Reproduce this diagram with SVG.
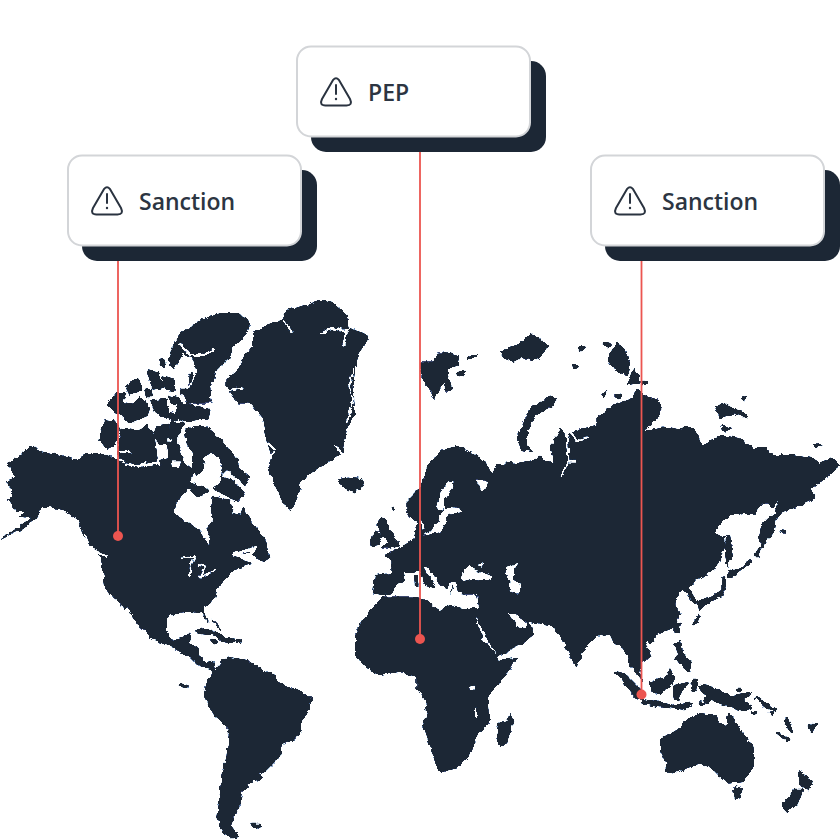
<svg xmlns="http://www.w3.org/2000/svg" xmlns:xlink="http://www.w3.org/1999/xlink" width="840" height="840" viewBox="0 0 840 840">
<style>
.d{fill:#1c2735;stroke:#1c2735;stroke-width:2;stroke-linejoin:round}
.i{fill:#1c2735;stroke:#1c2735;stroke-width:9;stroke-linejoin:round}
.w{fill:#fff;stroke:#fff;stroke-width:2;stroke-linejoin:round}
.wl{fill:none;stroke:#fff;stroke-width:5;stroke-linecap:round;stroke-linejoin:round}
.dl{fill:none;stroke:#1c2735;stroke-width:4;stroke-linecap:round;stroke-linejoin:round}
.sh{fill:#1c2735}
.card{fill:#fff;stroke:#d3d5d8;stroke-width:2}
.ic{fill:none;stroke:#2a3340;stroke-width:2;stroke-linejoin:round;stroke-linecap:round}
.lb{font-family:"Open Sans","Noto Sans",sans-serif;font-weight:600;font-size:23px;fill:#2c3542}
.ln{stroke:#ec5550;stroke-width:1.8;fill:none}
.dot{fill:#ec5550}
</style>
<defs>
<g id="warn">
<path class="ic" d="M104.2,188.8Q107,185.6 109.8,188.8L121,208Q124,214.5 117.5,214.5L96.5,214.5Q90,214.5 93,208Z"/>
<path class="ic" d="M107,194V203"/>
<circle cx="107" cy="208" r="1.2" fill="#2a3340"/>
</g>
<filter id="coast" filterUnits="userSpaceOnUse" x="0" y="0" width="840" height="840" color-interpolation-filters="sRGB">
<feTurbulence type="fractalNoise" baseFrequency="0.16" numOctaves="3" seed="4" result="n"/>
<feDisplacementMap in="SourceGraphic" in2="n" scale="5" xChannelSelector="R" yChannelSelector="G" result="r"/>
<feGaussianBlur in="r" stdDeviation="0.7" result="b"/>
<feComponentTransfer>
<feFuncR type="table" tableValues="0.11 0.11 0.11 0.11 0.3 0.8 1 1 1 1"/>
<feFuncG type="table" tableValues="0.153 0.153 0.153 0.153 0.3 0.8 1 1 1 1"/>
<feFuncB type="table" tableValues="0.208 0.208 0.208 0.208 0.35 0.8 1 1 1 1"/>
</feComponentTransfer>
</filter>
</defs>
<rect width="840" height="840" fill="#fff"/>

<g id="map" filter="url(#coast)">
<rect x="-10" y="-10" width="860" height="860" fill="#fff"/>
<!-- frame A: North America and Arctic -->
<g transform="translate(0,290) scale(.33333)">
<polygon class="d" points="90,468 130,485 180,495 230,510 260,490 300,490 350,505 380,525 420,535 470,525 500,535 540,530 575,560 575,590 560,600 530,640 520,670 560,695 600,720 610,745 625,765 630,740 620,715 640,690 630,650 640,620 690,630 700,670 720,675 730,650 760,700 790,740 810,800 790,815 750,790 700,795 730,812 760,820 700,840 670,870 650,900 645,925 615,950 615,975 625,1000 605,970 570,965 525,968 500,985 500,1020 515,1050 550,1040 572,1028 565,1060 595,1070 598,1100 620,1120 640,1115 600,1130 570,1100 515,1072 450,1045 435,1015 410,1015 370,950 340,925 315,890 310,840 300,800 250,740 235,690 190,660 150,650 125,650 110,685 60,720 0,750 50,715 100,680 90,665 50,665 25,630 40,600 15,575 50,560 20,520 50,505"/>
<polygon class="w" points="382,953 418,1015 408,1015 375,960"/>
<polyline class="wl" points="545,805 585,800 572,825 570,860"/>
<polyline class="wl" points="595,825 615,830 600,860 645,842"/>
<polyline class="wl" points="700,795 750,780 770,770 745,800" style="stroke-width:9"/>
<polyline class="wl" points="255,735 270,775 320,800" style="stroke-width:6"/>
<polygon class="d" points="60,680 100,640 125,650 110,685"/>
<!-- Greenland -->
<polygon class="d" points="760,125 800,105 850,85 860,60 920,45 960,30 1000,40 1040,75 1045,110 1105,140 1085,175 1065,230 1060,290 1065,370 1040,420 1030,490 960,530 905,570 885,640 875,660 850,640 825,590 805,530 815,500 800,450 790,385 750,340 715,340 680,290 680,265 720,235 735,190 760,170"/>
<polyline class="wl" points="960,130 1000,115 1040,125 1030,165" style="stroke-width:6"/>
<polyline class="wl" points="1020,125 1050,115"/>
<polyline class="wl" points="850,90 875,125"/>
<polyline class="wl" points="685,300 725,293"/>
<polyline class="wl" points="805,460 825,480 810,505"/>
<polyline class="wl" points="1005,470 1030,490"/>
<polyline class="wl" points="1060,240 1048,290 1060,330 1040,400"/>
<!-- Iceland -->
<polygon class="d" points="1015,570 1040,560 1085,565 1093,585 1060,610 1030,590"/>
<!-- Ellesmere -->
<polygon class="d" points="605,90 660,70 720,70 750,100 740,130 700,170 690,200 650,240 630,290 635,340 560,340 550,310 570,290 565,260 590,240 580,210 550,190 520,240 505,210 520,165 540,130 570,110"/>
<polyline class="wl" points="540,160 570,195 610,195 640,180" style="stroke-width:6"/>
<polyline class="wl" points="570,195 585,245 570,290"/>
<!-- Baffin -->
<polygon class="d" points="555,420 585,408 620,410 650,435 680,470 715,510 720,535 750,560 735,585 700,555 680,540 660,560 670,520 640,490 615,500 610,540 590,560 575,540 580,490 560,460"/>
<polygon class="d" points="660,560 700,570 735,610 715,635 680,620 640,595 660,580"/>
<polygon class="d" points="575,580 610,590 625,605 590,620 570,600"/>
<polygon class="d" points="545,510 580,540 575,570 540,535"/>
<!-- arctic islands -->
<polygon class="i" points="365,420 410,425 440,410 460,440 470,510 430,520 385,520 355,490"/>
<polygon class="i" points="315,392 345,395 355,420 345,460 320,472 302,450"/>
<polygon class="i" points="325,345 355,310 375,310 365,340 400,345 420,325 445,355 440,375 395,395 350,365"/>
<polygon class="i" points="380,290 415,265 420,300 390,310"/>
<polygon class="i" points="445,245 470,250 490,290 460,295"/>
<polygon class="i" points="455,335 500,330 500,380 470,365"/>
<polygon class="i" points="505,370 530,375 525,390 510,385"/>
<polygon class="i" points="530,335 560,345 625,360 620,385 550,390 535,380"/>
<polygon class="i" points="505,320 530,325 550,345 525,340"/>
<polygon class="i" points="490,260 520,270 520,300 500,295"/>
<polygon class="i" points="470,410 505,405 500,460 480,465 462,430"/>
<polygon class="i" points="515,400 550,400 525,450 510,440"/>
<polygon class="i" points="505,460 530,455 545,510 510,510"/>
<polygon class="i" points="485,510 510,505 515,535 490,535"/>
<polygon class="i" points="440,300 450,298 455,318 445,318"/>
<polygon class="i" points="478,210 490,208 495,225 485,228"/>
<polygon class="i" points="545,300 555,300 555,312 545,312"/>
<polyline class="wl" points="380,520 420,530 440,515"/>
<polyline class="wl" points="360,485 395,487"/>
</g>

<!-- frame B: Eurasia -->
<g transform="translate(350,320) scale(.33333)">
<polygon class="d" points="70,820 75,765 125,760 125,725 105,705 145,685 190,660 205,605 190,600 170,575 170,545 205,510 215,500 235,430 280,390 320,378 360,395 410,430 425,465 440,435 460,435 470,425 500,430 550,420 570,410 612,432 600,385 630,325 650,340 645,380 660,340 700,325 740,315 740,290 790,255 845,235 860,210 880,225 925,240 935,265 920,300 885,330 940,320 1000,330 1010,318 1040,330 1055,380 1110,345 1170,355 1210,385 1250,385 1265,405 1320,405 1390,415 1410,430 1445,410 1470,435 1420,480 1385,505 1395,535 1330,565 1295,575 1280,595 1275,630 1255,655 1235,685 1228,650 1235,610 1275,580 1287,535 1270,565 1255,550 1240,550 1215,580 1140,585 1090,635 1125,650 1125,680 1100,740 1060,770 1015,800 1040,845 1020,845 1015,820 990,810 965,805 985,790 1000,800 985,830 975,850 990,880 975,920 930,940 905,950 885,965 905,1010 875,1025 870,1060 878,1085 865,1070 840,1035 835,1010 815,985 790,965 778,940 740,950 705,985 680,1040 670,1035 650,985 630,950 600,915 535,905 555,940 520,970 450,1005 440,1008 400,940 378,890 385,860 340,820 250,810 100,825"/>
<!-- seas, given in the European frame -->
<g transform="translate(45,480)">
<polygon class="w" points="55,350 90,335 95,315 120,300 115,280 145,280 165,275 172,310 205,330 215,320 190,285 178,262 190,265 225,315 250,330 250,345 335,345 340,380 300,385 240,370 205,380 170,360 165,338 120,340 85,348"/>
<polygon class="d" points="148,285 158,285 160,320 150,320"/>
<polygon class="w" points="175,165 205,150 225,110 240,85 285,88 290,95 250,100 240,130 225,155 185,165"/>
<polygon class="w" points="215,80 225,45 250,5 265,8 255,35 235,60 235,85 222,90"/>
<polygon class="w" points="170,120 178,145 170,145"/>
<polygon class="w" points="335,0 350,30 370,15 360,0"/>
<polygon class="w" points="288,295 300,270 315,255 325,265 345,275 380,290 375,300 320,295 295,302"/>
<polygon class="w" points="340,255 355,250 350,262"/>
<polygon class="w" points="425,265 455,250 445,270 445,295 468,325 460,340 435,330 438,305 422,280"/>
<polygon class="w" points="250,310 270,305 275,330 285,345 255,345"/>
<polyline class="dl" points="258,315 265,325 258,340"/>
<!-- Britain and Ireland -->
<polygon class="d" points="35,130 50,110 65,120 75,150 95,180 105,195 75,205 50,205 70,185 55,170 40,150"/>
<polygon class="d" points="15,180 30,155 55,165 40,195 18,198"/>
<polygon class="d" points="80,85 86,80 86,92"/>
</g>
<polygon class="w" points="375,115 400,160 438,222 425,218 400,180" transform="translate(0,780)"/>
<polygon class="w" points="475,880 490,880 530,912 522,922 500,915"/>
<polyline class="wl" points="650,340 655,420 635,470" style="stroke-width:6"/>
<polyline class="wl" points="665,340 680,362 712,352"/>
<polyline class="wl" points="678,425 658,425"/>
<polyline class="wl" points="885,328 925,305"/>
<!-- Arctic islands -->
<polygon class="d" points="500,355 520,310 545,260 600,230 620,235 610,255 560,285 530,330 530,375 548,395 515,390"/>
<polygon class="d" points="215,125 250,125 265,95 280,95 330,110 325,135 290,150 305,205 290,215 280,185 255,240 235,200 212,170"/>
<polygon class="d" points="450,95 490,80 520,65 545,40 595,75 580,100 550,125 520,110 490,125 465,115"/>
<polygon class="d" points="770,120 800,65 820,80 840,130 830,165 800,155"/>
<polygon class="d" points="830,195 850,145 870,170 870,190"/>
<polygon class="d" points="1095,260 1120,250 1150,265 1190,280 1190,295 1150,280 1110,295"/>
<polygon class="d" points="1115,315 1145,325 1120,335"/>
<polygon class="d" points="1388,378 1405,370 1415,378 1395,385"/>
<polygon class="i" points="322,160 345,156 340,165"/>
<polygon class="i" points="355,115 375,108 365,117"/>
<polygon class="i" points="670,135 682,140 672,143"/>
<polygon class="i" points="690,82 700,82 695,90"/>
<polygon class="i" points="765,70 778,72 772,78"/>
<polygon class="i" points="755,225 765,218 760,230"/>
<polygon class="i" points="800,228 812,224 806,234"/>
<polygon class="i" points="875,185 890,188 880,192"/>
<polygon class="i" points="1176,236 1188,232 1182,240"/>
<!-- Sakhalin, Kuriles, Japan -->
<g transform="translate(990,480)">
<polygon class="d" points="140,165 150,165 158,230 145,240 148,262 140,255 135,215"/>
<polygon class="i" points="148,272 165,278 210,245 165,282 145,290"/>
<polygon class="i" points="225,228 240,205 232,228"/>
<polygon class="d" points="135,290 140,320 125,350 80,370 55,395 50,365 100,345 125,330 125,290"/>
<polygon class="i" points="40,432 55,408 50,425"/>
<polygon class="i" points="305,152 315,155 312,160"/>
</g>
</g>

<!-- frame C: Africa -->
<g transform="translate(350,580) scale(.33333)">
<polygon class="d" points="100,50 60,90 35,125 15,165 15,225 45,260 85,285 150,275 200,295 200,325 225,360 232,400 218,430 235,480 260,560 275,575 320,565 360,525 385,465 420,425 415,345 440,320 480,270 498,235 445,240 435,220 400,180 375,115 384,85 340,85 300,75 270,92 240,70 210,50"/>
<polygon class="d" points="482,400 490,425 470,490 450,500 437,480 445,430 470,420"/>
<polygon class="w" points="360,322 375,318 372,330 360,332"/>
<polyline class="wl" points="378,388 378,406"/>
</g>

<!-- frame D: Central and South America -->
<g transform="translate(100,560) scale(.33333)">
<polygon class="d" points="340,335 380,290 440,300 490,330 525,345 535,370 590,390 638,415 630,450 605,480 605,510 590,535 545,555 540,590 500,630 480,640 485,655 445,670 445,685 425,695 420,740 405,765 395,800 420,830 395,835 370,815 352,775 360,700 365,640 380,590 388,510 345,470 310,405 320,370"/>
<polygon class="d" points="300,318 340,305 345,335 325,322"/>
<polygon class="i" points="455,795 480,795 470,805"/>
<polygon class="i" points="243,373 262,378 250,382"/>
<polygon class="i" points="290,212 320,208 350,222 365,235 340,222 300,218"/>
<polygon class="i" points="365,235 405,240 395,245 370,242"/>
<polygon class="i" points="335,240 350,242 340,246"/>
<polygon class="i" points="412,240 422,243 412,245"/>
<polyline class="dl" points="335,178 350,190 365,215" style="stroke-width:5;stroke-dasharray:6 4"/>
</g>

<!-- frame E: South-East Asia and Oceania -->
<g transform="translate(560,600) scale(.33333)">
<polygon class="i" points="172,218 195,225 240,270 235,295 215,275"/>
<polygon class="i" points="245,300 300,310 340,318 395,312 370,325 300,318 250,308"/>
<polygon class="d" points="270,245 310,235 330,208 345,235 335,255 300,285 275,275"/>
<polygon class="i" points="340,260 385,250 365,260 355,300 345,295"/>
<polygon class="i" points="345,130 360,125 365,160 390,190 385,215 350,175 358,160"/>
<polygon class="i" points="418,258 460,265 510,290 570,280 545,300 575,322 545,330 500,315 440,290"/>
<polygon class="i" points="348,75 358,72 355,95 347,95"/>
<polygon class="i" points="265,115 283,110 280,125 270,128"/>
<polygon class="i" points="400,240 408,240 405,270 397,268"/>
<polygon class="d" points="300,100 345,80 360,40 340,0 200,0 200,110"/>
<polygon class="d" points="300,418 360,385 380,360 420,340 470,345 475,365 500,380 505,335 525,360 550,400 580,440 582,490 555,545 510,550 480,530 460,510 420,490 380,505 340,520 315,515 320,490 300,450"/>
<polygon class="d" points="518,558 548,565 540,598 525,595"/>
<polygon class="i" points="715,515 755,545 745,570 725,555"/>
<polygon class="i" points="705,570 725,570 710,610 680,635 672,615"/>
<polygon class="i" points="655,400 685,418 680,421"/>
<polygon class="i" points="590,295 645,330 615,318"/>
<polygon class="i" points="750,380 770,372 755,392"/>
<polygon class="i" points="680,355 695,395 678,372"/>
<polygon class="i" points="420,308 432,310 424,316"/>
<polygon class="i" points="435,295 450,300 440,305"/>
<polygon class="i" points="532,270 542,270 536,274"/>
<polygon class="i" points="578,337 588,337 582,341"/>
<polygon class="i" points="630,338 638,338 634,342"/>
</g>
</g>

<g id="connectors">
<path class="ln" d="M118,261V536"/>
<circle class="dot" cx="118" cy="536" r="5"/>
<path class="ln" d="M420,152V639"/>
<circle class="dot" cx="420" cy="639" r="5"/>
<path class="ln" d="M641.500,261V694"/>
<circle class="dot" cx="641.500" cy="694.500" r="5"/>
</g>

<g id="node-sanction-left">
<rect class="sh" x="82" y="170" width="235" height="91" rx="15"/>
<rect class="card" x="68" y="155.500" width="233" height="90" rx="14"/>
<use href="#warn" xlink:href="#warn"/>
<text class="lb" x="139" y="210">Sanction</text>
</g>
<g id="node-pep">
<rect class="sh" x="311" y="61" width="235" height="91" rx="15"/>
<rect class="card" x="297" y="46.500" width="233" height="90" rx="14"/>
<use href="#warn" xlink:href="#warn" transform="translate(229,-109)"/>
<text class="lb" x="368" y="101">PEP</text>
</g>
<g id="node-sanction-right">
<rect class="sh" x="605" y="170" width="235" height="91" rx="15"/>
<rect class="card" x="591" y="155.500" width="233" height="90" rx="14"/>
<use href="#warn" xlink:href="#warn" transform="translate(523,0)"/>
<text class="lb" x="662" y="210">Sanction</text>
</g>
</svg>
